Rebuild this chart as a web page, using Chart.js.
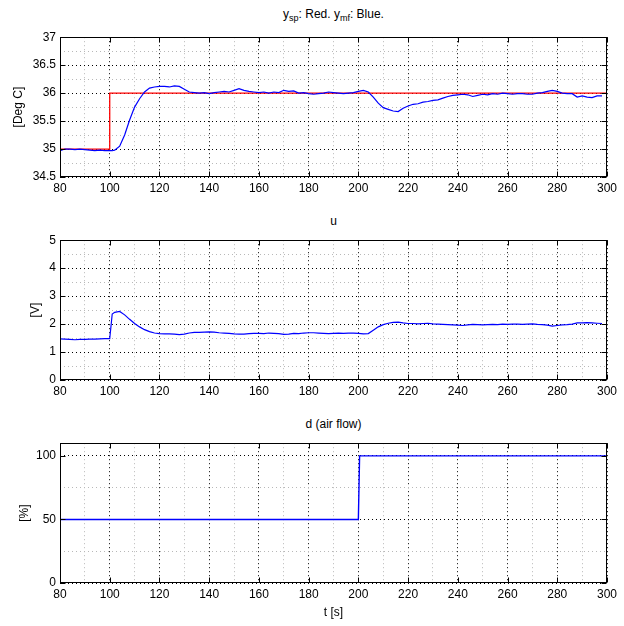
<!DOCTYPE html>
<html>
<head>
<meta charset="utf-8">
<script src="https://cdn.jsdelivr.net/npm/chart.js@4.4.1/dist/chart.umd.min.js"></script>
<style>
  body { margin: 0; background: #fff; font-family: "Liberation Sans", Arial, sans-serif; }
  #page { position: relative; width: 624px; height: 626px; }
  .box { position: absolute; left: 0; width: 624px; height: 175px; }
  .label { position: absolute; left: 60px; width: 547px; text-align: center; font-size: 12px; color: #000; }
  .label sub { font-size: 9px; }
</style>
</head>
<body>
<div id="page">
  <div class="label" style="top:7px">y<sub>sp</sub>: Red. y<sub>mf</sub>: Blue.</div>
  <div class="box" style="top:26px"><canvas id="tempChart"></canvas></div>
  <div class="label" style="top:214px">u</div>
  <div class="box" style="top:229px"><canvas id="uChart"></canvas></div>
  <div class="label" style="top:417px">d (air flow)</div>
  <div class="box" style="top:432px"><canvas id="dChart"></canvas></div>
  <div class="label" style="top:605px">t [s]</div>
</div>
<script>
// Sample times [s]
const time = [80, 82, 84, 86, 88, 90, 92, 94, 96, 98, 100, 101, 102, 104, 106, 108, 110, 112, 114, 116, 118,
  120, 122, 124, 126, 128, 130, 132, 134, 136, 138, 140, 142, 144, 146, 148, 150, 152, 154, 156, 158,
  160, 162, 164, 166, 168, 170, 172, 174, 176, 178, 180, 182, 184, 186, 188, 190, 192, 194, 196, 198,
  200, 202, 204, 206, 208, 210, 212, 214, 216, 218, 220, 222, 224, 226, 228, 230, 232, 234, 236, 238,
  240, 242, 244, 246, 248, 250, 252, 254, 256, 258, 260, 262, 264, 266, 268, 270, 272, 274, 276, 278,
  280, 282, 284, 286, 288, 290, 292, 294, 296, 298];

// Measured temperature y_mf [Deg C]
const ymf = [34.97, 35.00, 35.00, 34.99, 35.00, 34.99, 34.98, 34.97, 34.98, 34.97, 34.97, 34.97, 34.98, 35.05, 35.25, 35.52, 35.75, 35.90, 36.02, 36.09, 36.11,
  36.12, 36.12, 36.11, 36.13, 36.12, 36.07, 36.02, 36.01, 36.00, 36.01, 35.99, 36.01, 36.02, 36.03, 36.02, 36.05, 36.08, 36.05, 36.03, 36.02,
  36.01, 36.02, 36.00, 36.02, 36.01, 36.05, 36.03, 36.04, 36.00, 36.01, 35.99, 35.98, 35.99, 36.00, 36.02, 36.01, 36.00, 35.99, 36.00, 36.01,
  36.03, 36.05, 36.02, 35.93, 35.82, 35.74, 35.71, 35.68, 35.67, 35.73, 35.77, 35.80, 35.81, 35.84, 35.85, 35.87, 35.88, 35.91, 35.94, 35.96,
  35.97, 35.98, 35.97, 35.94, 35.96, 35.98, 35.97, 35.99, 35.98, 36.00, 35.99, 35.98, 35.99, 35.99, 35.98, 35.98, 36.00, 36.01, 36.03, 36.05,
  36.03, 36.00, 35.99, 35.99, 35.93, 35.95, 35.93, 35.92, 35.95, 35.95];

// Control signal u [V]
const u = [1.47, 1.46, 1.45, 1.44, 1.45, 1.45, 1.46, 1.46, 1.47, 1.48, 1.48, 2.36, 2.42, 2.45, 2.33, 2.17, 2.02, 1.90, 1.80, 1.73, 1.68,
  1.66, 1.65, 1.65, 1.64, 1.62, 1.64, 1.68, 1.70, 1.70, 1.71, 1.72, 1.71, 1.69, 1.68, 1.67, 1.65, 1.64, 1.64, 1.66, 1.67,
  1.67, 1.66, 1.68, 1.67, 1.66, 1.63, 1.64, 1.67, 1.66, 1.68, 1.69, 1.69, 1.68, 1.67, 1.66, 1.67, 1.68, 1.67, 1.68, 1.68,
  1.67, 1.65, 1.66, 1.78, 1.90, 1.98, 2.03, 2.06, 2.07, 2.04, 2.02, 2.02, 2.01, 2.02, 2.03, 2.01, 2.00, 1.99, 1.98, 1.97,
  1.96, 1.95, 1.97, 1.99, 1.98, 1.97, 1.98, 1.99, 1.98, 2.00, 1.99, 2.00, 2.00, 1.99, 2.00, 2.01, 1.99, 1.98, 1.96, 1.93,
  1.95, 1.97, 1.98, 2.00, 2.04, 2.04, 2.05, 2.04, 2.03, 2.02];

// Setpoint y_sp (step at 100 s)
const spTime = [80, 100, 100, 300];
const ysp = [35, 35, 36, 36];

// Disturbance d, air flow [%] (step at 200 s)
const dTime = [80, 200, 200.5, 300];
const d = [50, 50, 100, 100];

// Ticks: labelled (major) and unlabelled (minor grid)
const xMajor = [80, 100, 120, 140, 160, 180, 200, 220, 240, 260, 280, 300];
const xMinor = [90, 110, 130, 150, 170, 190, 210, 230, 250, 270, 290];
const tempMajor = [34.5, 35, 35.5, 36, 36.5, 37];
const tempMinor = [34.75, 35.25, 35.75, 36.25, 36.75];
const uMajor = [0, 1, 2, 3, 4, 5];
const uMinor = [0.5, 1.5, 2.5, 3.5, 4.5];
const dMajor = [0, 50, 100];
const dMinor = [25, 75];

const FONT = { family: "'Liberation Sans', Arial, sans-serif", size: 12 };
Chart.defaults.color = "#000";

const toPoints = (xs, ys) => xs.map((x, i) => ({ x: x, y: ys[i] }));

// Axes box plus inward ticks, matlab style
const boxPlugin = {
  id: "box",
  afterDatasetsDraw(chart) {
    const { ctx, chartArea: a, scales } = chart;
    const l = Math.round(a.left) + 0.5, r = Math.round(a.right) - 0.5;
    const t = Math.round(a.top) + 0.5, b = Math.round(a.bottom) - 0.5;
    ctx.save();
    ctx.strokeStyle = "#000";
    ctx.lineWidth = 1;
    ctx.strokeRect(l, t, r - l, b - t);
    ctx.beginPath();
    chart.options.majorX.forEach((v) => {
      const px = Math.round(scales.x.getPixelForValue(v)) + 0.5;
      ctx.moveTo(px, b); ctx.lineTo(px, b - 5);
      ctx.moveTo(px, t); ctx.lineTo(px, t + 5);
    });
    chart.options.majorY.forEach((v) => {
      const py = Math.round(scales.y.getPixelForValue(v)) + 0.5;
      ctx.moveTo(l, py); ctx.lineTo(l + 5, py);
      ctx.moveTo(r, py); ctx.lineTo(r - 5, py);
    });
    ctx.stroke();
    ctx.restore();
  },
};

function gridAxis(major, minor, min, max, fmt) {
  const all = major.concat(minor).sort((p, q) => p - q);
  const isMajor = (v) => major.some((m) => Math.abs(m - v) < 1e-9);
  return {
    type: "linear",
    min: min,
    max: max,
    afterBuildTicks: (scale) => {
      scale.ticks = all.map((v) => ({ value: v }));
    },
    ticks: {
      autoSkip: false,
      maxRotation: 0,
      padding: 4,
      font: FONT,
      callback: (v) => (isMajor(v) ? fmt(v) : ""),
    },
    grid: {
      drawTicks: false,
      color: (c) => (c.tick && isMajor(c.tick.value) ? "#000" : "#b8b8b8"),
      lineWidth: 1,
    },
    border: { display: false, dash: [1, 3] },
  };
}

function makeChart(id, datasets, yMajor, yMinor, yMin, yMax, yTitle, padLeft) {
  const x = gridAxis(xMajor, xMinor, 80, 300, (v) => String(v));
  x.afterFit = (scale) => { scale.height = 24; };
  const y = gridAxis(yMajor, yMinor, yMin, yMax, (v) => String(v));
  y.afterFit = (scale) => { scale.width = 60 - padLeft; };
  y.title = { display: true, text: yTitle, font: FONT, padding: 0 };

  return new Chart(document.getElementById(id), {
    type: "line",
    data: { datasets: datasets },
    options: {
      responsive: true,
      maintainAspectRatio: false,
      animation: false,
      majorX: xMajor,
      majorY: yMajor,
      layout: { padding: { top: 3, right: 17, left: padLeft, bottom: 0 } },
      elements: { point: { radius: 0 }, line: { tension: 0, borderWidth: 1.2 } },
      plugins: { legend: { display: false }, tooltip: { enabled: false } },
      scales: { x: x, y: y },
    },
    plugins: [boxPlugin],
  });
}

// Temperature: blue measurement drawn on top of red setpoint
makeChart("tempChart", [
  { data: toPoints(time, ymf), borderColor: "#0000ff", fill: false },
  { data: toPoints(spTime, ysp), borderColor: "#ff0000", borderWidth: 1.3, fill: false },
], tempMajor, tempMinor, 34.5, 37, "[Deg C]", 11);

makeChart("uChart", [
  { data: toPoints(time, u), borderColor: "#0000ff", fill: false },
], uMajor, uMinor, 0, 5, "[V]", 28);

makeChart("dChart", [
  { data: toPoints(dTime, d), borderColor: "#0000ff", borderWidth: 1.4, fill: false },
], dMajor, dMinor, 0, 110, "[%]", 17);
</script>
</body>
</html>
